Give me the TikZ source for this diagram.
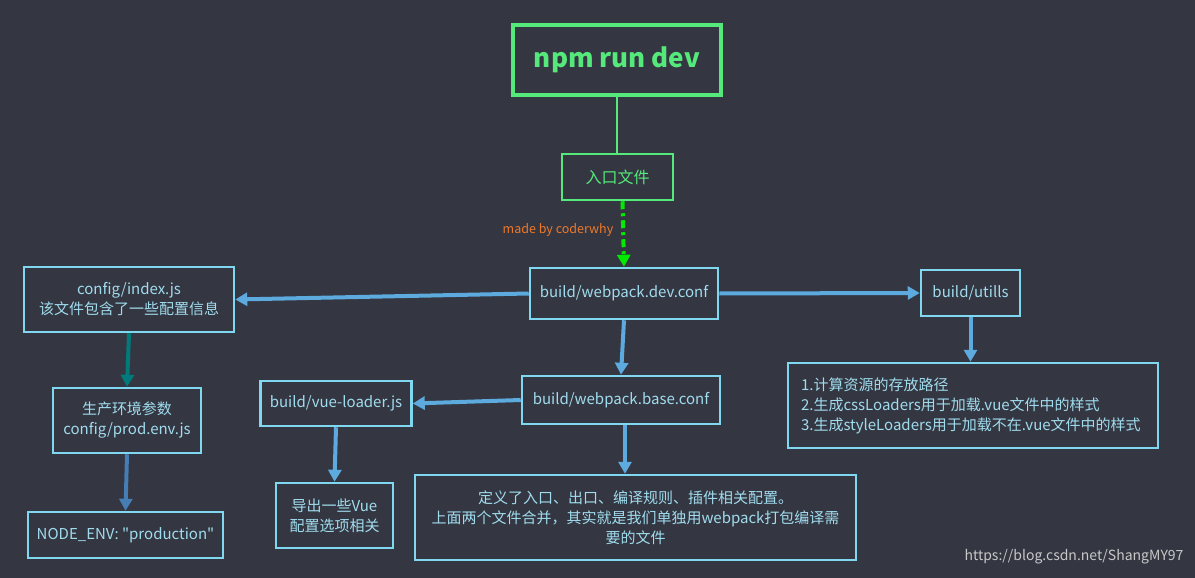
\documentclass[tikz,border=0pt]{standalone}
\usepackage{fontspec}
\setmainfont{Noto Sans CJK SC}
\newfontfamily\blockfont{Noto Sans CJK SC}
\usepackage{xcolor}
\usepackage{tikz}
\usetikzlibrary{arrows.meta, positioning}

\definecolor{bgdark}{RGB}{52,55,66}
\definecolor{npmgreen}{RGB}{85,232,122}
\definecolor{dashgreen}{RGB}{0,235,0}
\definecolor{boxline}{RGB}{128,216,240}
\definecolor{boxtext}{RGB}{160,220,238}
\definecolor{arrowblue}{RGB}{93,170,222}
\definecolor{arrowteal}{RGB}{0,122,122}
\definecolor{arrowsteel}{RGB}{70,125,180}
\definecolor{creditorange}{RGB}{240,120,40}
\definecolor{markgray}{RGB}{200,200,200}

\begin{document}
\begin{tikzpicture}[x=1pt, y=-1pt,
        block/.style={rectangle, draw=boxline, line width=2.5pt, align=center, inner sep=0pt, text=boxtext, font=\blockfont\fontsize{15}{20}\selectfont},
        startblock/.style={rectangle, draw=npmgreen, line width=4pt, inner sep=0pt, text=npmgreen, font=\fontsize{26}{30}\selectfont\bfseries},
        entryblock/.style={rectangle, draw=npmgreen, line width=2.5pt, inner sep=0pt, text=npmgreen, font=\fontsize{16}{20}\selectfont},
        arrow/.style={-{Triangle[length=12pt, width=13pt]}, line width=4pt, draw=arrowblue}]

        % Background
        \fill[bgdark] (0,0) rectangle (1195,578);
        \useasboundingbox (0,0) rectangle (1195,578);

        % Nodes
        \node[startblock, minimum width=208pt, minimum height=70pt] (npm) at (617,60) {npm run dev};
        \node[entryblock, minimum width=111pt, minimum height=46pt] (entry) at (617.5,177) {入口文件};
        \node[block, minimum width=188pt, minimum height=51pt] (devconf) at (624,293.5) {build/webpack.dev.conf};
        \node[block, minimum width=210pt, minimum height=65pt] (configindex) at (129,299.5) {config/index.js\\该文件包含了一些配置信息};
        \node[block, minimum width=99pt, minimum height=46pt] (utils) at (970.5,293) {build/utills};
        \node[block, align=left, text width=344pt, inner xsep=13pt, minimum height=85pt] (utilsnotes) at (973,405.5) {1.计算资源的存放路径\\2.生成cssLoaders用于加载.vue文件中的样式\\3.生成styleLoaders用于加载不在.vue文件中的样式};
        \node[block, minimum width=198pt, minimum height=48pt] (baseconf) at (621,400) {build/webpack.base.conf};
        \node[block, minimum width=151pt, minimum height=45pt] (vueloader) at (336,403.5) {build/vue-loader.js};
        \node[block, minimum width=117pt, minimum height=65pt] (vueexport) at (334.5,515.5) {导出一些Vue\\配置选项相关};
        \node[block, minimum width=441pt, minimum height=85pt] (basenotes) at (635.5,517.5) {定义了入口、出口、编译规则、插件相关配置。\\上面两个文件合并，其实就是我们单独用webpack打包编译需\\要的文件};
        \node[block, minimum width=148pt, minimum height=65pt] (prodenv) at (127,420.5) {生产环境参数\\config/prod.env.js};
        \node[block, minimum width=195pt, minimum height=46pt] (nodeenv) at (125.5,535) {NODE\_ENV: "production"};

        % Labels
        \node[text=creditorange, font=\fontsize{12.5}{14}\selectfont] (credit) at (558,230) {made by coderwhy};
        \node[anchor=east, text=markgray, font=\fontsize{14}{16}\selectfont] (watermark) at (1187,557) {https://blog.csdn.net/ShangMY97};

        % Arrows
        \draw[npmgreen, line width=1.2pt] (npm.south) -- (npm.south |- entry.north);
        \draw[-{Triangle[length=12pt, width=13pt]}, dashgreen, line width=4pt, dash pattern=on 8pt off 4pt on 3pt off 4pt] ([xshift=5pt]entry.south) -- (devconf.north);

        \draw[arrow] (devconf.west) -- (configindex.east);
        \draw[arrow] (devconf.east) -- (utils.west);
        \draw[arrow] (devconf.south) -- (baseconf.north);
        \draw[arrow] (utils.south) -- (utils.south |- utilsnotes.north);
        \draw[arrow] (baseconf.west) -- (vueloader.east);
        \draw[arrow] ([xshift=4pt]baseconf.south) -- ([xshift=4pt]baseconf.south |- basenotes.north);
        \draw[arrow] (vueloader.south) -- (vueexport.north);

        \draw[arrow, draw=arrowteal] (configindex.south) -- (prodenv.north);
        \draw[arrow, draw=arrowsteel] (prodenv.south) -- (nodeenv.north);

    \end{tikzpicture}
\end{document}
